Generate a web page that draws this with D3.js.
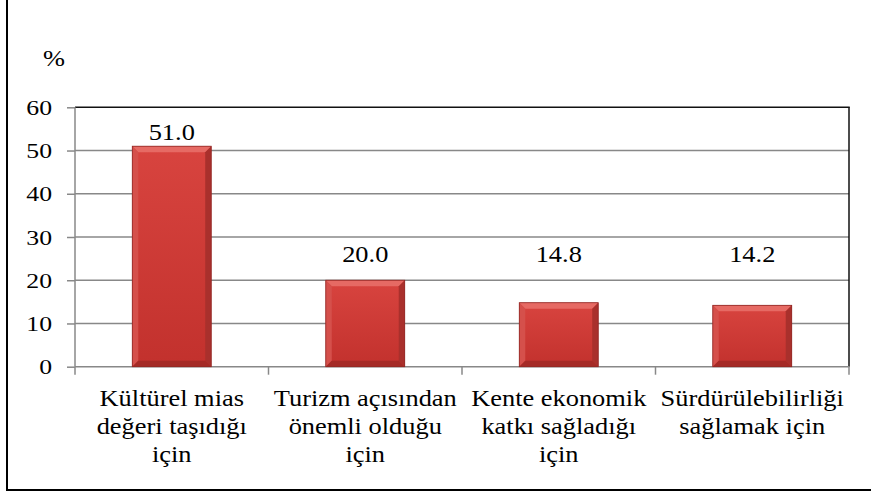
<!DOCTYPE html>
<html>
<head>
<meta charset="utf-8">
<script src="https://cdn.jsdelivr.net/npm/d3@7"></script>
<style>
  html, body { margin: 0; padding: 0; background: #fff; }
  svg { display: block; }
  text { font-family: "Liberation Serif", "Times New Roman", serif; fill: #000; }
</style>
</head>
<body>
<svg id="chart" width="871" height="495"></svg>
<script>
// data
var categories = ["Kültürel mias", "Turizm açısından", "Kente ekonomik", "Sürdürülebilirliği"];
var labelLines = [
  ["Kültürel mias", "değeri taşıdığı", "için"],
  ["Turizm açısından", "önemli olduğu", "için"],
  ["Kente ekonomik", "katkı sağladığı", "için"],
  ["Sürdürülebilirliği", "sağlamak için"]
];
var values = [51.0, 20.0, 14.8, 14.2];
var yTicks = [0, 10, 20, 30, 40, 50, 60];

var svg = d3.select("#chart");
// note: "top" is taken by window.top, so plot edges get a prefix
var plotL = 75, plotR = 849, plotT = 107.3, plotB = 366.7;
var sx = 1.1; // text in the picture is drawn a bit wide

var x = d3.scaleBand()
  .domain(categories)
  .range([plotL, plotR])
  .paddingInner(0.592)
  .paddingOuter(0.296);

var y = d3.scaleLinear()
  .domain([0, 60])
  .range([plotB, plotT]);

// outer frame (only left and bottom edges are in the crop)
svg.append("line").attr("x1", 7).attr("x2", 7).attr("y1", 0).attr("y2", 491)
  .attr("stroke", "#000").attr("stroke-width", 2);
svg.append("line").attr("x1", 6).attr("x2", 871).attr("y1", 490).attr("y2", 490)
  .attr("stroke", "#000").attr("stroke-width", 2);

// gridlines
svg.append("g").selectAll("line")
  .data(yTicks.filter(function(d) { return d > 0 && d < 60; }))
  .enter().append("line")
  .attr("x1", plotL).attr("x2", plotR)
  .attr("y1", function(d) { return y(d); })
  .attr("y2", function(d) { return y(d); })
  .attr("stroke", "#888").attr("stroke-width", 1.5);

// plot box top + right edges
svg.append("line").attr("x1", plotL).attr("x2", plotR + 0.75)
  .attr("y1", y(60)).attr("y2", y(60))
  .attr("stroke", "#111").attr("stroke-width", 1.5);
svg.append("line").attr("x1", plotR).attr("x2", plotR)
  .attr("y1", y(60)).attr("y2", y(0))
  .attr("stroke", "#111").attr("stroke-width", 1.5);

// y axis
var yAxis = svg.append("g")
  .attr("transform", "translate(" + plotL + ",0)")
  .call(d3.axisLeft(y).tickValues(yTicks).tickSize(8).tickFormat(""));
yAxis.selectAll("path, line").attr("stroke", "#888").attr("stroke-width", 1.5);
yAxis.select(".domain").attr("d", "M0," + y(0) + "V" + y(60));

svg.append("g").selectAll("text")
  .data(yTicks)
  .enter().append("text")
  .attr("transform", function(d) { return "translate(52," + (y(d) + 7.5) + ") scale(1.17,1)"; })
  .attr("text-anchor", "end")
  .style("font-size", "22px")
  .text(function(d) { return d; });

svg.append("text")
  .attr("transform", "translate(43,66) scale(" + sx + ",1)")
  .style("font-size", "24px")
  .text("%");

// x axis
var xAxisY = y(0);
var bounds = categories.map(function(c) { return x(c) - (x.step() - x.bandwidth()) / 2; }).concat([plotR]);
svg.append("line").attr("x1", plotL).attr("x2", plotR)
  .attr("y1", xAxisY).attr("y2", xAxisY)
  .attr("stroke", "#888").attr("stroke-width", 1.5);
svg.append("g").selectAll("line")
  .data(bounds)
  .enter().append("line")
  .attr("x1", function(d) { return d; }).attr("x2", function(d) { return d; })
  .attr("y1", xAxisY).attr("y2", xAxisY + 8)
  .attr("stroke", "#888").attr("stroke-width", 1.5);

// bevelled bars
var defs = svg.append("defs");
var grad = defs.append("linearGradient").attr("id", "face")
  .attr("x1", 0).attr("y1", 0).attr("x2", 0).attr("y2", 1);
grad.append("stop").attr("offset", "0%").attr("stop-color", "#d8443f");
grad.append("stop").attr("offset", "100%").attr("stop-color", "#c2312d");

var bv = 6;
var bw = x.bandwidth();
var bars = svg.append("g").selectAll("g")
  .data(values)
  .enter().append("g")
  .attr("transform", function(d, i) { return "translate(" + x(categories[i]) + "," + y(d) + ")"; });

bars.append("rect")
  .attr("width", bw)
  .attr("height", function(d) { return y(0) - y(d); })
  .attr("fill", "url(#face)");
// top bevel
bars.append("path")
  .attr("d", "M0,0H" + bw + "L" + (bw - bv) + "," + bv + "H" + bv + "Z")
  .attr("fill", "#e66a64");
// left bevel
bars.append("path")
  .attr("d", function(d) { var h = y(0) - y(d); return "M0,0L" + bv + "," + bv + "V" + (h - bv) + "L0," + h + "Z"; })
  .attr("fill", "#d5504b");
// right bevel
bars.append("path")
  .attr("d", function(d) { var h = y(0) - y(d); return "M" + bw + ",0L" + (bw - bv) + "," + bv + "V" + (h - bv) + "L" + bw + "," + h + "Z"; })
  .attr("fill", "#a9302c");
// bottom bevel
bars.append("path")
  .attr("d", function(d) { var h = y(0) - y(d); return "M0," + h + "L" + bv + "," + (h - bv) + "H" + (bw - bv) + "L" + bw + "," + h + "Z"; })
  .attr("fill", "#a52a26");
bars.append("rect")
  .attr("width", bw)
  .attr("height", function(d) { return y(0) - y(d); })
  .attr("fill", "none")
  .attr("stroke", "#8e2522").attr("stroke-width", 0.8);

// value labels (short bars have their labels lifted to a common height)
svg.append("g").selectAll("text")
  .data(values)
  .enter().append("text")
  .attr("transform", function(d, i) {
    var cx = x(categories[i]) + x.bandwidth() / 2;
    return "translate(" + cx + "," + (y(Math.max(d, 22.8)) - 6) + ") scale(1.1,1)";
  })
  .attr("text-anchor", "middle")
  .style("font-size", "24px")
  .text(function(d) { return d.toFixed(1); });

// category labels
var cat = svg.append("g").selectAll("text")
  .data(labelLines)
  .enter().append("text")
  .attr("transform", function(d, i) {
    return "translate(" + (x(categories[i]) + x.bandwidth() / 2) + ",406) scale(" + sx + ",1)";
  })
  .attr("text-anchor", "middle")
  .style("font-size", "24px");
cat.selectAll("tspan")
  .data(function(d) { return d; })
  .enter().append("tspan")
  .attr("x", 0)
  .attr("y", function(d, j) { return j * 27.8; })
  .text(function(d) { return d; });
</script>
</body>
</html>
